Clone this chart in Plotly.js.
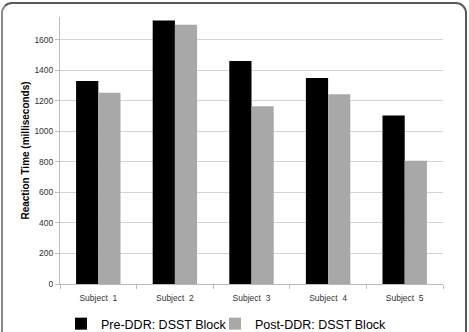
<!DOCTYPE html>
<html>
<head>
<meta charset="utf-8">
<script src="https://cdn.plot.ly/plotly-3.0.1.min.js"></script>
<style>
html,body{margin:0;padding:0;background:#fff;}
#wrap{position:relative;width:469px;height:332px;overflow:hidden;}
#chart{width:469px;height:332px;}
#frame{position:absolute;left:1px;top:2px;width:462px;height:340px;border:2px solid #5a5a5a;border-left-color:#8a8a8a;border-radius:11px;pointer-events:none;}
</style>
</head>
<body>
<div id="wrap"><div id="chart"></div><div id="frame"></div></div>
<script>
var categories = ['Subject  1', 'Subject  2', 'Subject  3', 'Subject  4', 'Subject  5'];
var preDDR = [1331, 1727, 1462, 1351, 1105];
var postDDR = [1254, 1700, 1165, 1244, 807];
var seriesNames = ['Pre-DDR: DSST Block', 'Post-DDR: DSST Block'];
var yTicks = [0, 200, 400, 600, 800, 1000, 1200, 1400, 1600];

var traces = [
  {type:'bar', x:categories, y:preDDR, name:seriesNames[0], marker:{color:'#000000'}, legend:'legend'},
  {type:'bar', x:categories, y:postDDR, name:seriesNames[1], marker:{color:'#a8a8a8'}, legend:'legend2'}
];
var legendFont = {size:12.5, color:'#000', family:'Arial, Liberation Sans, sans-serif'};
var layout = {
  width:469, height:332,
  margin:{l:60, r:26, t:17, b:48, autoexpand:false},
  paper_bgcolor:'#ffffff', plot_bgcolor:'#ffffff',
  barmode:'group', bargap:0.42, bargroupgap:0,
  font:{family:'Arial, Liberation Sans, sans-serif', color:'#333'},
  xaxis:{
    showline:true, linecolor:'#bdbdbd', linewidth:1,
    ticks:'outside', tickson:'boundaries', ticklen:4, tickcolor:'#bdbdbd',
    tickfont:{size:8.5, color:'#333'}, showgrid:false, zeroline:false,
    ticklabelstandoff:6
  },
  yaxis:{
    range:[0,1750], tickvals:yTicks, ticktext:yTicks.map(String),
    showline:true, linecolor:'#bdbdbd', linewidth:1,
    ticks:'outside', ticklen:4, tickcolor:'#bdbdbd',
    showgrid:true, gridcolor:'#d4d4d4', gridwidth:1, zeroline:false,
    tickfont:{size:8.5, color:'#333'}, ticklabelstandoff:0,
    title:{text:'Reaction Time (milliseconds)', font:{size:10, color:'#000', family:'Arial, Liberation Sans, sans-serif', weight:'bold'}, standoff:2}
  },
  showlegend:true,
  legend:{orientation:'h', x:0.13, xref:'container', xanchor:'left', y:0.024, yref:'container', yanchor:'middle',
    font:legendFont, itemwidth:30, bgcolor:'rgba(0,0,0,0)'},
  legend2:{orientation:'h', x:0.4584, xref:'container', xanchor:'left', y:0.024, yref:'container', yanchor:'middle',
    font:legendFont, itemwidth:30, bgcolor:'rgba(0,0,0,0)'}
};
Plotly.newPlot('chart', traces, layout, {displayModeBar:false, staticPlot:true});
</script>
</body>
</html>
